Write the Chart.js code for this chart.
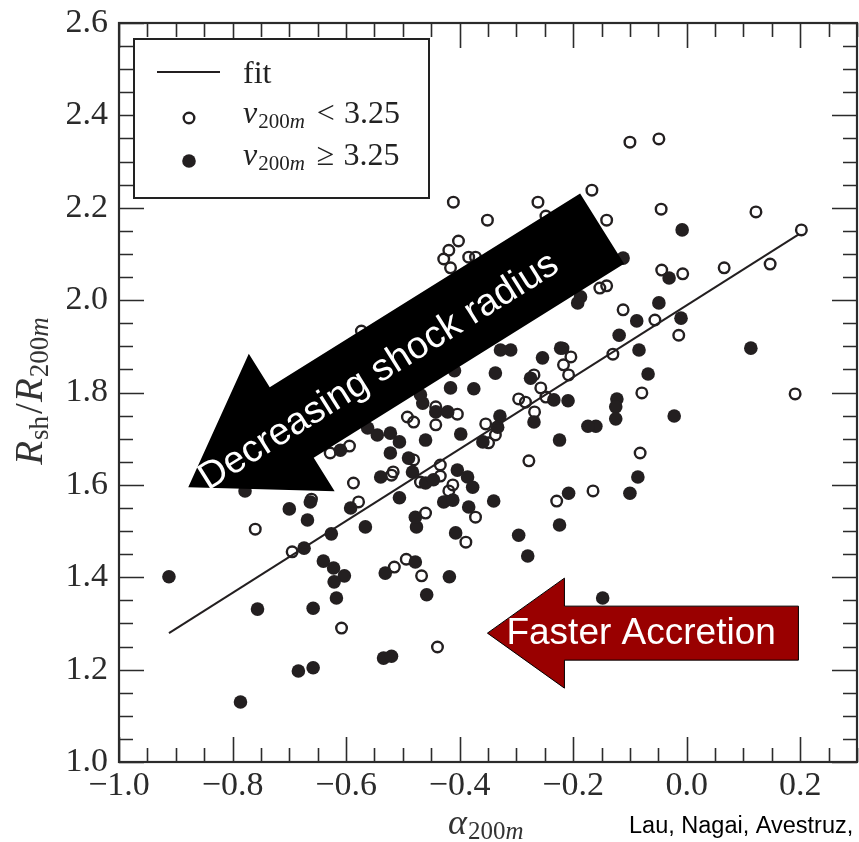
<!DOCTYPE html>
<html><head><meta charset="utf-8">
<script src="https://cdn.jsdelivr.net/npm/chart.js@4/dist/chart.umd.min.js"></script>
<style>html,body{margin:0;padding:0;background:#fff;}#wrap{width:859px;height:842px;}</style>
</head><body><div id="wrap"><canvas id="c" width="859" height="842"></canvas></div>
<script>
// ---- data ----
const openX = [-0.100,-0.049,-0.411,-0.262,-0.167,-0.351,-0.248,-0.141,-0.045,0.122,0.202,-0.402,-0.419,-0.428,-0.416,-0.384,-0.372,-0.044,-0.007,0.066,0.147,-0.153,-0.141,-0.112,-0.056,-0.014,-0.130,-0.079,0.191,-0.218,-0.204,-0.217,-0.208,-0.257,-0.248,-0.296,-0.284,-0.268,-0.269,-0.354,-0.337,-0.349,-0.442,-0.442,-0.404,-0.492,-0.481,-0.278,-0.434,-0.434,-0.412,-0.419,-0.372,-0.229,-0.165,-0.082,-0.460,-0.469,-0.481,-0.517,-0.520,-0.587,-0.578,-0.594,-0.628,-0.573,-0.760,-0.695,-0.608,-0.515,-0.494,-0.467,-0.389,-0.439,-0.661];
const openY = [2.342,2.349,2.212,2.212,2.238,2.173,2.182,2.173,2.197,2.191,2.152,2.128,2.108,2.089,2.070,2.093,2.093,2.065,2.057,2.070,2.078,2.026,2.031,1.979,1.957,1.924,1.883,1.799,1.797,1.896,1.877,1.860,1.838,1.810,1.790,1.786,1.779,1.758,1.838,1.732,1.708,1.691,1.769,1.730,1.753,1.747,1.736,1.652,1.643,1.619,1.600,1.587,1.530,1.565,1.587,1.669,1.539,1.606,1.654,1.628,1.621,1.604,1.563,1.684,1.669,1.933,1.504,1.455,1.290,1.422,1.439,1.403,1.476,1.249,1.569];
const filledX = [-0.008,-0.112,-0.031,-0.049,-0.088,-0.010,-0.119,-0.084,0.113,-0.068,-0.123,-0.125,-0.125,-0.022,-0.160,-0.174,-0.086,-0.100,-0.148,-0.187,-0.192,-0.222,-0.254,-0.275,-0.310,-0.328,-0.337,-0.375,-0.416,-0.409,-0.209,-0.234,-0.224,-0.269,-0.329,-0.333,-0.359,-0.398,-0.460,-0.442,-0.421,-0.465,-0.469,-0.460,-0.428,-0.412,-0.384,-0.404,-0.386,-0.377,-0.340,-0.208,-0.224,-0.296,-0.280,-0.407,-0.418,-0.458,-0.478,-0.476,-0.478,-0.531,-0.534,-0.520,-0.545,-0.522,-0.506,-0.522,-0.490,-0.539,-0.483,-0.446,-0.506,-0.562,-0.610,-0.592,-0.566,-0.626,-0.640,-0.622,-0.603,-0.621,-0.617,-0.658,-0.756,-0.700,-0.663,-0.668,-0.674,-0.912,-0.684,-0.658,-0.786,-0.778];
const filledY = [2.152,2.091,2.048,1.994,1.955,1.961,1.924,1.892,1.896,1.840,1.786,1.769,1.743,1.749,1.727,1.727,1.617,1.582,1.355,2.007,1.994,1.896,1.875,1.831,1.892,1.892,1.842,1.808,1.810,1.847,1.782,1.784,1.697,1.736,1.749,1.725,1.693,1.710,1.697,1.758,1.758,1.777,1.795,1.604,1.563,1.567,1.552,1.632,1.617,1.595,1.565,1.582,1.513,1.491,1.446,1.496,1.401,1.362,1.433,1.509,1.530,1.409,1.225,1.229,1.708,1.712,1.693,1.669,1.658,1.617,1.628,1.611,1.572,1.723,1.675,1.550,1.509,1.494,1.435,1.420,1.403,1.390,1.355,1.333,1.331,1.548,1.563,1.524,1.463,1.401,1.197,1.204,1.130,1.587];
const fitX = [-0.912, 0.198];
const fitY = [1.279, 2.143];
const xTicks = [-1.0,-0.8,-0.6,-0.4,-0.2,0.0,0.2];
const xTickLabels = ['\u22121.0','\u22120.8','\u22120.6','\u22120.4','\u22120.2','0.0','0.2'];
const yTicks = [1.0,1.2,1.4,1.6,1.8,2.0,2.2,2.4,2.6];
const yTickLabels = ['1.0','1.2','1.4','1.6','1.8','2.0','2.2','2.4','2.6'];
const seriesNames = ['fit','\u03bd200m < 3.25','\u03bd200m \u2265 3.25'];
const arrow1Text = 'Decreasing shock radius';
const arrow2Text = 'Faster Accretion';
const creditText = 'Lau, Nagai, Avestruz,';

const INK = '#231f20';
const SERIF = '"Liberation Serif", "DejaVu Serif", serif';
const SANS = '"Liberation Sans", Arial, sans-serif';

function toPts(xs, ys){ return xs.map((v,i)=>({x:v, y:ys[i]})); }

function runs(ctx, x, y, list){
  for (const r of list){
    ctx.font = r.f;
    if (r.gap) x += r.gap;
    ctx.fillText(r.t, x, y + (r.dy||0));
    x += ctx.measureText(r.t).width;
  }
  return x;
}
function runsWidth(ctx, list){
  let w = 0;
  for (const r of list){ ctx.font = r.f; w += (r.gap||0) + ctx.measureText(r.t).width; }
  return w;
}

const decor = {
  id: 'decor',
  afterDraw(chart){
    const {ctx, chartArea:a, scales:{x, y}} = chart;
    ctx.save();
    // inward ticks on all four sides
    ctx.strokeStyle = '#2b2b2b';
    ctx.lineWidth = 1.6;
    ctx.beginPath();
    for (let k = 0; k <= 26; k++){
      const v = -1.0 + k*0.05;
      const px = Math.round(x.getPixelForValue(v)) + 0.5;
      const len = (k % 4 === 0) ? 25 : 14;
      ctx.moveTo(px, a.bottom); ctx.lineTo(px, a.bottom - len);
      ctx.moveTo(px, a.top); ctx.lineTo(px, a.top + len);
    }
    for (let k = 0; k <= 32; k++){
      const v = 1.0 + k*0.05;
      const py = Math.round(y.getPixelForValue(v)) + 0.5;
      const len = (k % 4 === 0) ? 25 : 14;
      ctx.moveTo(a.left, py); ctx.lineTo(a.left + len, py);
      ctx.moveTo(a.right, py); ctx.lineTo(a.right - len, py);
    }
    ctx.stroke();
    // frame
    ctx.lineWidth = 2.2;
    ctx.strokeRect(a.left, a.top, a.right - a.left, a.bottom - a.top);

    // black block arrow
    {
      const tx = x.getPixelForValue(-0.878), ty = y.getPixelForValue(1.595);
      ctx.save();
      ctx.translate(tx, ty);
      ctx.rotate(-32*Math.PI/180);
      const hl = 122, hh = 81, sh = 41.5, L = 488;
      ctx.beginPath();
      ctx.moveTo(0,0); ctx.lineTo(hl,-hh); ctx.lineTo(hl,-sh); ctx.lineTo(L,-sh);
      ctx.lineTo(L,sh); ctx.lineTo(hl,sh); ctx.lineTo(hl,hh); ctx.closePath();
      ctx.fillStyle = '#000'; ctx.fill();
      ctx.fillStyle = '#fff';
      ctx.font = '38px ' + SANS;
      ctx.textAlign = 'center'; ctx.textBaseline = 'middle';
      ctx.fillText(arrow1Text, 223, 3);
      ctx.restore();
    }
    // red block arrow
    {
      const tx = x.getPixelForValue(-0.351), ty = y.getPixelForValue(1.279);
      ctx.save();
      ctx.translate(tx, ty);
      ctx.beginPath();
      ctx.moveTo(0,0); ctx.lineTo(77,-55); ctx.lineTo(77,-27); ctx.lineTo(311,-27);
      ctx.lineTo(311,27); ctx.lineTo(77,27); ctx.lineTo(77,55); ctx.closePath();
      ctx.fillStyle = '#990000'; ctx.fill();
      ctx.strokeStyle = '#000'; ctx.lineWidth = 1; ctx.stroke();
      ctx.fillStyle = '#fff';
      ctx.font = '37px ' + SANS;
      ctx.textAlign = 'left'; ctx.textBaseline = 'middle';
      ctx.fillText(arrow2Text, 19, 1);
      ctx.restore();
    }

    // legend box
    {
      const lx = a.left + 15, ly = a.top + 16, lw = 295, lh = 159;
      ctx.fillStyle = '#fff';
      ctx.fillRect(lx, ly, lw, lh);
      ctx.strokeStyle = '#222'; ctx.lineWidth = 2;
      ctx.strokeRect(lx, ly, lw, lh);
      ctx.beginPath(); ctx.moveTo(lx+23, ly+33); ctx.lineTo(lx+86, ly+33);
      ctx.lineWidth = 2; ctx.strokeStyle = INK; ctx.stroke();
      ctx.beginPath(); ctx.arc(lx+55, ly+79, 5.3, 0, 2*Math.PI);
      ctx.lineWidth = 2.4; ctx.stroke();
      ctx.beginPath(); ctx.arc(lx+55, ly+122, 6.8, 0, 2*Math.PI);
      ctx.fillStyle = INK; ctx.fill();
      ctx.fillStyle = '#222';
      ctx.textAlign = 'left'; ctx.textBaseline = 'alphabetic';
      ctx.font = '32px ' + SERIF;
      ctx.fillText(seriesNames[0], lx+109, ly+44);
      const sub = (sym) => [
        {t:'\u03bd', f:'italic 32px ' + SERIF},
        {t:'200', f:'21px ' + SERIF, dy:5, gap:1},
        {t:'m', f:'italic 21px ' + SERIF, dy:5},
        {t:sym, f:'32px ' + SERIF, gap:12},
        {t:'3.25', f:'32px ' + SERIF, gap:9}
      ];
      runs(ctx, lx+109, ly+84, sub('<'));
      runs(ctx, lx+109, ly+126, sub('\u2265'));
    }

    // axis titles
    ctx.fillStyle = '#333';
    ctx.textAlign = 'left'; ctx.textBaseline = 'alphabetic';
    runs(ctx, 448, 834, [
      {t:'\u03b1', f:'italic 36px ' + SERIF},
      {t:'200', f:'25px ' + SERIF, gap:1, dy:5},
      {t:'m', f:'italic 25px ' + SERIF, dy:5}
    ]);
    {
      const parts = [
        {t:'R', f:'italic 39px ' + SERIF},
        {t:'sh', f:'27px ' + SERIF, dy:6, gap:1},
        {t:'/', f:'39px ' + SERIF, gap:2},
        {t:'R', f:'italic 39px ' + SERIF, gap:1},
        {t:'200', f:'27px ' + SERIF, dy:6, gap:1},
        {t:'m', f:'italic 27px ' + SERIF, dy:6}
      ];
      const w = runsWidth(ctx, parts);
      ctx.save();
      ctx.translate(42, 391);
      ctx.rotate(-Math.PI/2);
      runs(ctx, -w/2, 0, parts);
      ctx.restore();
    }
    // credit
    ctx.fillStyle = '#000';
    ctx.font = '23.5px ' + SANS;
    ctx.fillText(creditText, 629, 833);
    ctx.restore();
  }
};

new Chart(document.getElementById('c'), {
  data: {
    datasets: [
      { type:'line', label: seriesNames[0], data: toPts(fitX, fitY), borderColor: INK, borderWidth: 2,
        pointRadius: 0, fill:false, order: 0 },
      { type:'scatter', label: seriesNames[2], data: toPts(filledX, filledY), pointRadius: 6.8,
        pointHoverRadius: 6.8, backgroundColor: INK, borderColor: INK, borderWidth: 0, order: 1 },
      { type:'scatter', label: seriesNames[1], data: toPts(openX, openY), pointRadius: 5.3,
        pointHoverRadius: 5.3, backgroundColor: 'rgba(0,0,0,0)', borderColor: INK, borderWidth: 2.4, order: 2 }
    ]
  },
  options: {
    responsive: false, animation: false, devicePixelRatio: 1,
    layout: { autoPadding: false, padding: { top: 23, right: 2, left: 0, bottom: 0 } },
    plugins: { legend: { display: false }, tooltip: { enabled: false } },
    events: [],
    scales: {
      x: {
        type: 'linear', min: -1.0, max: 0.3,
        afterBuildTicks: s => { s.ticks = xTicks.map(v => ({value: v})); },
        afterFit: s => { s.height = 80; s.paddingLeft = 0; s.paddingRight = 0; },
        ticks: { callback: (v, i) => xTickLabels[i], font: { family: SERIF, size: 34 }, color: '#2b2b2b',
                 padding: 4, maxRotation: 0, autoSkip: false },
        grid: { drawOnChartArea: false, drawTicks: false },
        border: { display: false }
      },
      y: {
        type: 'linear', min: 1.0, max: 2.6,
        afterBuildTicks: s => { s.ticks = yTicks.map(v => ({value: v})); },
        afterFit: s => { s.width = 119; s.paddingTop = 0; s.paddingBottom = 0; },
        ticks: { callback: (v, i) => yTickLabels[i], font: { family: SERIF, size: 34 }, color: '#2b2b2b',
                 padding: 11, autoSkip: false },
        grid: { drawOnChartArea: false, drawTicks: false },
        border: { display: false }
      }
    }
  },
  plugins: [decor]
});
</script></body></html>
